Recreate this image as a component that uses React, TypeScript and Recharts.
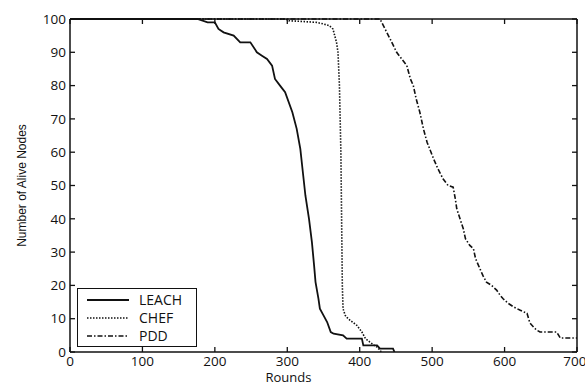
import { LineChart, Line, XAxis, YAxis } from "recharts";

// rounds vs number of alive nodes
const leachRounds = [0, 176, 190, 200, 205, 212, 226, 235, 249, 258, 265, 272, 279, 283, 290, 297, 307, 313, 318, 322, 325, 330, 334, 337, 339, 343, 345, 350, 355, 360, 364, 377, 382, 403, 405, 424, 428, 446, 448];
const leachNodes = [100, 100, 99, 99, 97, 96, 95, 93, 93, 90, 89, 88, 86, 82, 80, 78, 72, 67, 61, 53, 47, 40, 33, 26, 21, 16, 13, 11, 9, 6, 5.5, 5, 4, 4, 2, 2, 1, 1, 0];

const chefRounds = [0, 298, 302, 340, 350, 358, 363, 368, 370, 372, 374, 375, 376, 377, 380, 384, 390, 396, 403, 408, 414, 420, 424, 430];
const chefNodes = [100, 100, 99.5, 99, 98.5, 98, 97, 93, 90, 80, 60, 40, 20, 13, 11, 10, 9, 8, 6, 4, 3, 2, 1.5, 0];

const pddRounds = [0, 428, 435, 442, 451, 458, 465, 470, 474, 478, 483, 488, 493, 502, 508, 515, 522, 529, 532, 534, 540, 543, 546, 552, 557, 560, 562, 566, 570, 575, 582, 589, 594, 598, 605, 612, 621, 631, 635, 640, 644, 649, 672, 677, 700];
const pddNodes = [100, 100, 97, 94, 90, 88, 86, 82, 80, 76, 72, 67, 63, 58, 55, 52, 50, 49.5, 46, 43, 39, 37, 34, 32, 31, 28, 27, 25, 23, 21, 20, 18.6, 17, 16, 14.6, 13.6, 12.6, 11.6, 8.7, 7.5, 6.6, 6, 6, 4.2, 4.2];

const xTicks = [0, 100, 200, 300, 400, 500, 600, 700];
const yTicks = [0, 10, 20, 30, 40, 50, 60, 70, 80, 90, 100];

const toRows = (rounds: number[], nodes: number[]) =>
  rounds.map((x, i) => ({ x, y: nodes[i] }));

const leachData = toRows(leachRounds, leachNodes);
const chefData = toRows(chefRounds, chefNodes);
const pddData = toRows(pddRounds, pddNodes);

const INK = "#111";
const FONT = "'Open Sans', sans-serif";

// PDD is plotted on the mirror axes (same domains) so the top/right ticks get a scale
const series = [
  { name: "LEACH", data: leachData, dash: undefined, width: 1.8, xId: 0, yId: 0 },
  { name: "CHEF", data: chefData, dash: "1.5 1.5", width: 1.6, xId: 0, yId: 0 },
  { name: "PDD", data: pddData, dash: "5 2 1.5 2", width: 1.6, xId: "top", yId: "right" },
];

// legend sits inside the plot, bottom-left, like the matlab one
function LegendBox() {
  return (
    <div
      style={{
        position: "absolute",
        left: 77,
        top: 288,
        width: 120,
        height: 59,
        border: `1.5px solid ${INK}`,
        background: "#fff",
        fontFamily: FONT,
        fontSize: 14,
        fontWeight: 500,
        color: INK,
        boxSizing: "border-box",
        paddingTop: 2,
      }}
    >
      {series.map((s) => (
        <div key={s.name} style={{ display: "flex", alignItems: "center", height: 18, lineHeight: "18px" }}>
          <svg width={61} height={10}>
            <line x1={9} x2={51} y1={5} y2={5} stroke={INK} strokeWidth={s.width} strokeDasharray={s.dash} />
          </svg>
          <span>{s.name}</span>
        </div>
      ))}
    </div>
  );
}

export default function App() {
  const tickStyle = { fontSize: 13.5, fill: INK, fontFamily: FONT, fontWeight: 500 };
  const axisLine = { stroke: INK, strokeWidth: 1.5 };
  const tickLine = { stroke: INK, strokeWidth: 1.3 };
  return (
    <div style={{ position: "absolute", left: 0, top: 0, width: 585, height: 383, background: "#fff" }}>
      <LineChart width={585} height={383} margin={{ top: 18, right: 7, left: 0, bottom: 0 }}>
        <XAxis
          type="number"
          dataKey="x"
          domain={[0, 700]}
          ticks={xTicks}
          tickSize={-5}
          tickMargin={9}
          height={31}
          tick={tickStyle}
          axisLine={axisLine}
          tickLine={tickLine}
          label={{ value: "Rounds", position: "insideBottom", offset: 1, dx: -35, style: { fontSize: 13, fill: INK, fontFamily: FONT } }}
        />
        <XAxis
          xAxisId="top"
          orientation="top"
          type="number"
          dataKey="x"
          domain={[0, 700]}
          ticks={xTicks}
          tickSize={-5}
          height={1}
          tickFormatter={() => ""}
          axisLine={axisLine}
          tickLine={tickLine}
        />
        <YAxis
          type="number"
          domain={[0, 100]}
          ticks={yTicks}
          tickSize={-5}
          tickMargin={9}
          width={70}
          tick={tickStyle}
          axisLine={axisLine}
          tickLine={tickLine}
          label={{
            value: "Number of Alive Nodes",
            angle: -90,
            position: "insideLeft",
            offset: 22,
            style: { textAnchor: "middle", fontSize: 12, fill: INK, fontFamily: "'Liberation Sans Narrow', 'Liberation Sans', sans-serif" },
          }}
        />
        <YAxis
          yAxisId="right"
          orientation="right"
          type="number"
          domain={[0, 100]}
          ticks={yTicks}
          tickSize={-5}
          width={1}
          tickFormatter={() => ""}
          axisLine={axisLine}
          tickLine={tickLine}
        />
        {series.map((s) => (
          <Line
            key={s.name}
            data={s.data}
            dataKey="y"
            name={s.name}
            xAxisId={s.xId}
            yAxisId={s.yId}
            type="linear"
            stroke={INK}
            strokeWidth={s.width}
            strokeDasharray={s.dash}
            dot={false}
            isAnimationActive={false}
          />
        ))}
      </LineChart>
      <LegendBox />
    </div>
  );
}
